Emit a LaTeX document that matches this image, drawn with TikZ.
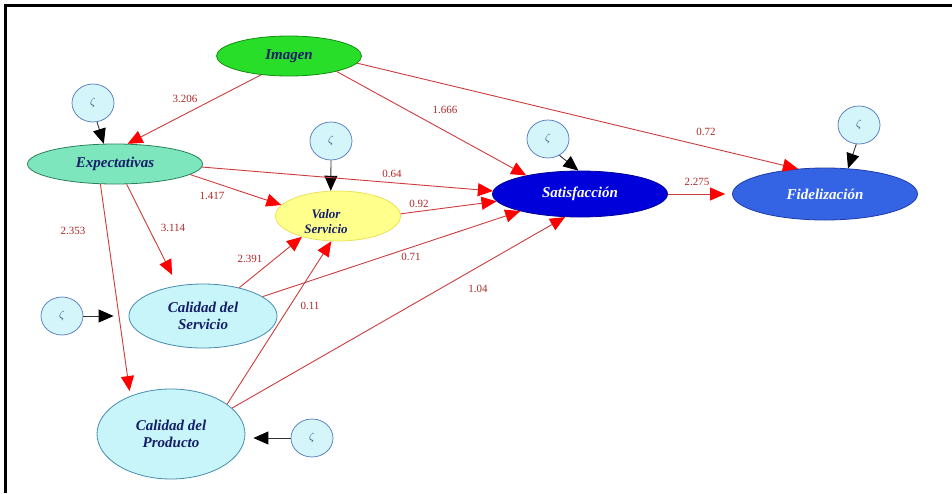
\documentclass[tikz,border=0pt]{standalone}
\usepackage{fontspec}
\setmainfont{Liberation Serif}
\usetikzlibrary{arrows.meta,shapes.geometric}
\definecolor{imgfill}{RGB}{40,222,40}
\definecolor{imgdraw}{RGB}{20,140,20}
\definecolor{expfill}{RGB}{125,230,188}
\definecolor{expdraw}{RGB}{40,130,90}
\definecolor{valfill}{RGB}{255,255,140}
\definecolor{valdraw}{RGB}{235,225,90}
\definecolor{satfill}{RGB}{0,0,218}
\definecolor{satdraw}{RGB}{0,0,150}
\definecolor{fidfill}{RGB}{52,100,228}
\definecolor{fiddraw}{RGB}{30,60,170}
\definecolor{calfill}{RGB}{200,245,250}
\definecolor{caldraw}{RGB}{70,140,175}
\definecolor{zfill}{RGB}{212,245,250}
\definecolor{zdraw}{RGB}{80,120,190}
\definecolor{navy}{RGB}{20,30,105}
\definecolor{redline}{RGB}{205,60,60}
\definecolor{lblred}{RGB}{175,40,40}
\begin{document}
\begin{tikzpicture}[x=1pt,y=-1pt,
  lat/.style={ellipse, draw, line width=0.8pt, inner sep=0pt, align=center,
    font=\fontsize{15}{17}\selectfont\bfseries\itshape},
  zeta/.style={ellipse, draw=zdraw, fill=zfill, line width=0.7pt,
    minimum width=42pt, minimum height=38pt, inner sep=0pt,
    text=zdraw!60!black, font=\fontsize{11}{12}\selectfont},
  rarr/.style={draw=redline, line width=0.9pt,
    -{Triangle[length=15pt,width=13pt,color=red]}},
  barr/.style={draw=black!80, line width=0.9pt,
    -{Triangle[length=15pt,width=13pt,color=black]}},
  lbl/.style={text=lblred, inner sep=0pt, font=\fontsize{11}{12}\selectfont}
]
\useasboundingbox (0,0) rectangle (952,493);
\fill[white] (0,0) rectangle (952,493);
\draw[line width=3pt] (5.5,493) -- (5.5,5.5) -- (952,5.5);

% latent variables
\node[lat, fill=imgfill, draw=imgdraw, text=navy, minimum width=145pt, minimum height=40pt] (img) at (289,56) {Imagen};
\node[lat, fill=expfill, draw=expdraw, text=navy, minimum width=175pt, minimum height=40pt] (exp) at (115,164) {Expectativas};
\node[lat, fill=valfill, draw=valdraw, minimum width=125pt, minimum height=50pt] (val) at (338,216) {};
\node[text=navy, inner sep=0pt, align=center, font=\fontsize{13}{15}\selectfont\bfseries\itshape] (valt) at (326,222) {Valor\\Servicio};
\node[lat, fill=satfill, draw=satdraw, text=white, minimum width=175pt, minimum height=46pt] (sat) at (580,194) {Satisfacción};
\node[lat, fill=fidfill, draw=fiddraw, text=white, minimum width=185pt, minimum height=52pt] (fid) at (825,194) {Fidelización};
\node[lat, fill=calfill, draw=caldraw, text=navy, minimum width=148pt, minimum height=64pt] (cs) at (203,316) {Calidad del\\Servicio};
\node[lat, fill=calfill, draw=caldraw, text=navy, minimum width=148pt, minimum height=90pt] (cp) at (171,434) {Calidad del\\Producto};

% disturbances
\node[zeta] (z1) at (93,103) {$\zeta$};
\node[zeta] (z2) at (331,141) {$\zeta$};
\node[zeta] (z3) at (548,139) {$\zeta$};
\node[zeta] (z4) at (859,125) {$\zeta$};
\node[zeta] (z5) at (62,316) {$\zeta$};
\node[zeta] (z6) at (312,438) {$\zeta$};

\draw[barr] (z1.282) -- (exp.119);
\draw[barr] (z2.south) -- (val.106);
\draw[barr] (z3.305) -- (sat.94);
\draw[barr] (z4.262) -- (fid.48);
\draw[barr, shorten >=15pt] (z5.east) -- (cs.west);
\draw[barr, shorten >=8pt] (z6.west) -- (z6.west -| cp.east);

% structural paths
\draw[rarr] (img.214) -- (exp.58);
\draw[rarr] (img.342) -- (sat.161);
\draw[rarr] (img.354) -- (fid.137);
\draw[rarr] (exp.358) -- (sat.178);
\draw[rarr] (exp.352) -- (val.169);
\draw[rarr, shorten >=12pt] (exp.300) -- (cs.130);
\draw[rarr, shorten >=5pt] (exp.234) -- (cp.137);
\draw[rarr] (val.2) -- (sat.185);
\draw[rarr] (cs.38) -- (val.210);
\draw[rarr] (cs.18) -- (sat.196);
\draw[rarr] (cp.28) -- (val.255);
\draw[rarr] (cp.23) -- (sat.237);
\draw[rarr, shorten >=7pt] (sat.east) -- (fid.west);

% path coefficients
\node[lbl] (l1) at (185,99) {3.206};
\node[lbl] (l2) at (445,110) {1.666};
\node[lbl] (l3) at (706,132) {0.72};
\node[lbl] (l4) at (392,174) {0.64};
\node[lbl] (l5) at (212,196) {1.417};
\node[lbl] (l6) at (173,228) {3.114};
\node[lbl] (l7) at (73,231) {2.353};
\node[lbl] (l8) at (419,204) {0.92};
\node[lbl] (l9) at (250,259) {2.391};
\node[lbl] (l10) at (411,257) {0.71};
\node[lbl] (l11) at (310,306) {0.11};
\node[lbl] (l12) at (478,289) {1.04};
\node[lbl] (l13) at (697,182) {2.275};
\end{tikzpicture}
\end{document}
